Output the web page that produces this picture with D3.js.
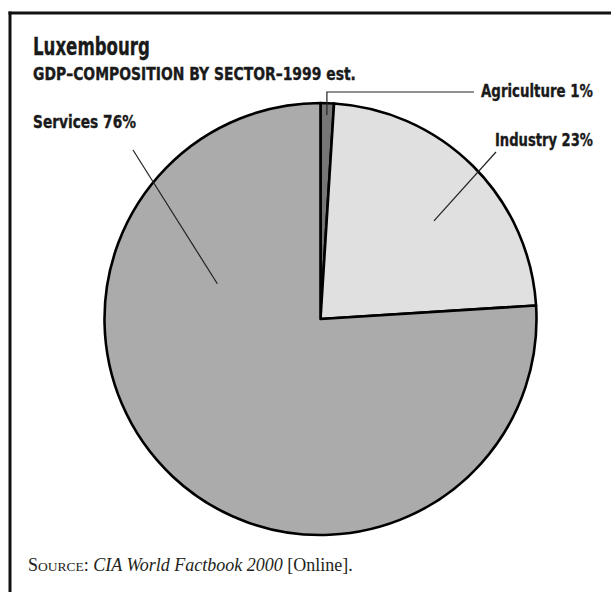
<!DOCTYPE html>
<html>
<head>
<meta charset="utf-8">
<script src="https://cdn.jsdelivr.net/npm/d3@7"></script>
<style>
  html, body { margin: 0; padding: 0; background: #fff; }
  svg { display: block; }
  .sans { font-family: "Liberation Sans Narrow", "DejaVu Sans Condensed", "Liberation Sans", sans-serif; font-weight: bold; fill: #1a1a1a; stroke: #1a1a1a; stroke-width: 0.35; }
  .serif { font-family: "Liberation Serif", "DejaVu Serif", serif; fill: #231f20; }
</style>
</head>
<body>
<svg id="chart" width="611" height="592"></svg>
<script>
// GDP composition by sector, Luxembourg, 1999 estimate
const sectors = ["Agriculture", "Industry", "Services"];
const shares = [1, 23, 76];
const sliceColors = ["#767676", "#e0e0e0", "#ababab"];

const title = "Luxembourg";
const subtitle = "GDP\u2013COMPOSITION BY SECTOR\u20131999 est.";

const width = 611, height = 592;
const cx = 320.5, cy = 319, radius = 216;

const svg = d3.select("#chart");

// condensed bold text, squeezed horizontally to a target width
function fitText(x, y, str, size, w, anchor) {
  const grp = svg.append("g");
  const t = grp.append("text").attr("class", "sans").attr("font-size", size).text(str);
  const natural = t.node().getComputedTextLength();
  const sx = Math.min(1, w / natural);
  const left = anchor === "end" ? x - w : x;
  grp.attr("transform", `translate(${left},${y}) scale(${sx},1)`);
  return grp;
}

// frame: top and left rules
svg.append("line").attr("x1", 8.5).attr("x2", width).attr("y1", 13).attr("y2", 13)
  .attr("stroke", "#111").attr("stroke-width", 3);
svg.append("line").attr("x1", 10).attr("x2", 10).attr("y1", 11.5).attr("y2", height)
  .attr("stroke", "#111").attr("stroke-width", 3);

// headings
fitText(33, 55, title, 25, 117, "start");
fitText(33, 80, subtitle, 17, 323, "start");

// pie
const data = sectors.map((s, i) => ({ sector: s, value: shares[i], color: sliceColors[i] }));
const pie = d3.pie().value(d => d.value).sort(null);
const arc = d3.arc().innerRadius(0).outerRadius(radius);
const arcs = pie(data);

const g = svg.append("g").attr("transform", `translate(${cx},${cy})`);
g.selectAll("path").data(arcs).join("path")
  .attr("d", arc)
  .attr("fill", d => d.data.color)
  .attr("stroke", "#000")
  .attr("stroke-width", 2.6)
  .attr("stroke-linejoin", "round");

// point inside the pie at a fraction of the slice's angular span and radius
function inside(a, t, r) {
  const ang = a.startAngle + t * (a.endAngle - a.startAngle);
  return [cx + Math.sin(ang) * r, cy - Math.cos(ang) * r];
}

// labels with leader lines
const labels = [
  { i: 0, text: `${sectors[0]} ${shares[0]}%`, x: 593, y: 97, anchor: "end", len: 112,
    from: [0.5, 204], elbow: true, lineY: 92, lineEnd: 474 },
  { i: 1, text: `${sectors[1]} ${shares[1]}%`, x: 593, y: 146, anchor: "end", len: 98,
    from: [0.55, 150], to: [496, 152] },
  { i: 2, text: `${sectors[2]} ${shares[2]}%`, x: 33, y: 128, anchor: "start", len: 103,
    from: [0.74, 109], to: [133, 150] }
];

labels.forEach(l => {
  const p = inside(arcs[l.i], l.from[0], l.from[1]);
  if (l.elbow) {
    svg.append("polyline")
      .attr("points", [[p[0], p[1]], [p[0], l.lineY], [l.lineEnd, l.lineY]].map(q => q.join(",")).join(" "))
      .attr("fill", "none").attr("stroke", "#222").attr("stroke-width", 1.2);
  } else {
    svg.append("line").attr("x1", p[0]).attr("y1", p[1]).attr("x2", l.to[0]).attr("y2", l.to[1])
      .attr("stroke", "#222").attr("stroke-width", 1.2);
  }
  fitText(l.x, l.y, l.text, 18, l.len, l.anchor);
});

// source line
const src = svg.append("text").attr("class", "serif").attr("x", 28).attr("y", 571).attr("font-size", 18);
src.append("tspan").text("S").attr("font-size", 18);
src.append("tspan").text("OURCE").attr("font-size", 13.5);
src.append("tspan").text(": ");
src.append("tspan").attr("font-style", "italic").text("CIA World Factbook 2000");
src.append("tspan").text(" [Online].");
</script>
</body>
</html>
